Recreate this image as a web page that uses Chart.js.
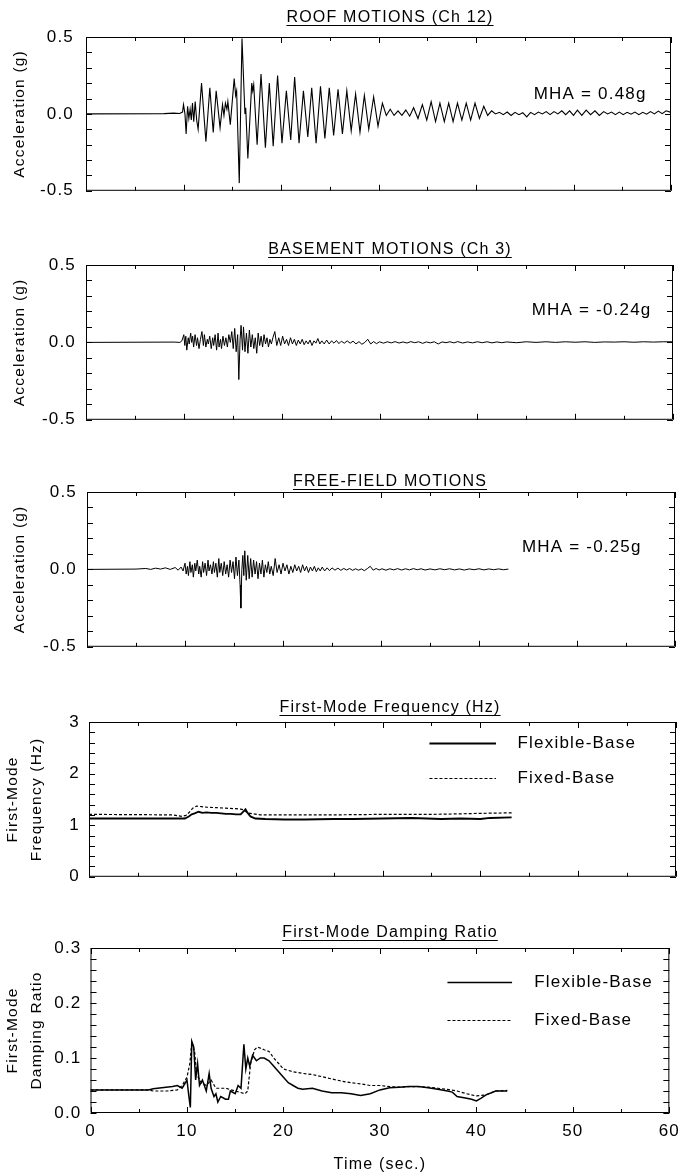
<!DOCTYPE html>
<html>
<head>
<meta charset="utf-8">
<script src="https://cdn.jsdelivr.net/npm/chart.js@4"></script>
<style>
html,body{margin:0;padding:0;background:#fff;width:688px;height:1176px;overflow:hidden;position:relative}
canvas{position:absolute;left:0}
</style>
</head>
<body>
<script>
// ---------------- DATA ----------------
const timeTicks = [0, 10, 20, 30, 40, 50, 60];
const accTicks = [-0.5, 0, 0.5];
const freqTicks = [0, 1, 2, 3];
const dampTicks = [0, 0.1, 0.2, 0.3];

const panelTitles = ['ROOF MOTIONS (Ch 12)', 'BASEMENT MOTIONS (Ch 3)', 'FREE-FIELD MOTIONS',
  'First-Mode Frequency (Hz)', 'First-Mode Damping Ratio'];
const yTitles = [['Acceleration (g)'], ['Acceleration (g)'], ['Acceleration (g)'],
  ['First-Mode', 'Frequency (Hz)'], ['First-Mode', 'Damping Ratio']];
const xTitle = 'Time (sec.)';
const mhaTexts = ['MHA = 0.48g', 'MHA = -0.24g', 'MHA = -0.25g'];
const seriesNames = ['Flexible-Base', 'Fixed-Base'];

// [time (s), acceleration (g)]
const roofMotion = [[0,0],[8,0.002],[9,0.005],[9.6,0.003],[9.9,0.012],[10,0.06],[10.15,0],[10.27,-0.13],[10.42,0.05],[10.55,-0.03],[10.68,0.03],[10.8,-0.04],[10.92,0.07],[11.05,-0.05],[11.2,0.08],[11.35,-0.04],[11.5,-0.1],[11.85,0.2],[12.3,-0.18],[12.7,0.17],[13.05,-0.12],[13.35,0.15],[13.75,-0.09],[14.0,0.06],[14.15,-0.01],[14.3,0.07],[14.45,0.03],[14.55,0.08],[14.8,-0.07],[15.2,0.23],[15.35,0.12],[15.45,0.15],[15.72,-0.45],[16.0,0.49],[16.3,0.0],[16.38,0.04],[16.6,-0.29],[17.0,0.2],[17.1,0.15],[17.2,0.19],[17.55,-0.2],[17.95,0.26],[18.4,-0.22],[18.8,0.2],[19.2,-0.21],[19.65,0.25],[20.1,-0.19],[20.55,0.15],[21.0,-0.17],[21.4,0.24],[21.85,-0.19],[22.3,0.15],[22.75,-0.15],[23.15,0.17],[23.6,-0.19],[24.05,0.18],[24.5,-0.16],[24.95,0.17],[25.4,-0.14],[25.85,0.16],[26.3,-0.13],[26.75,0.15],[27.2,-0.11],[27.65,0.13],[28.1,-0.12],[28.55,0.12],[29.0,-0.1],[29.5,0.11],[29.95,-0.08],[30.4,0.07],[30.8,-0.01],[31.2,0.03],[31.6,-0.01],[32.0,0.02],[32.4,-0.01],[32.8,0.025],[33.2,-0.015],[33.6,0.04],[34.05,-0.03],[34.5,0.06],[34.95,-0.04],[35.4,0.08],[35.85,-0.05],[36.3,0.07],[36.75,-0.05],[37.2,0.07],[37.65,-0.05],[38.1,0.07],[38.55,-0.04],[39.0,0.07],[39.45,-0.04],[39.9,0.07],[40.35,-0.03],[40.8,0.05],[41.2,-0.01],[41.6,0.02],[42.0,0.0],[42.4,0.01],[42.8,-0.005],[43.2,0.012],[43.6,-0.01],[44.0,0.01],[44.4,-0.005],[44.8,0.008],[45.2,-0.02],[45.6,0.01],[46.0,-0.005],[46.4,0.012],[46.8,0.0],[47.2,0.015],[47.6,-0.005],[48.0,0.015],[48.4,0.0],[48.8,0.02],[49.2,-0.005],[49.6,0.02],[50.0,-0.01],[50.4,0.025],[50.85,-0.01],[51.3,0.025],[51.75,-0.005],[52.2,0.02],[52.65,-0.01],[53.1,0.015],[53.5,0.0],[53.9,0.012],[54.3,-0.005],[54.7,0.012],[55.1,-0.005],[55.5,0.01],[55.9,-0.002],[56.3,0.012],[56.7,-0.005],[57.1,0.01],[57.5,-0.002],[57.9,0.015],[58.3,0.0],[58.7,0.018],[59.1,0.002],[59.5,0.02],[60,0.01]];

const basementMotion = [[0,0],[9.0,0.002],[9.6,0.0],[9.8,0.01],[10.0,0.05],[10.1,-0.02],[10.2,0.04],[10.3,-0.05],[10.45,0.03],[10.55,-0.01],[10.7,0.06],[10.8,0.0],[10.9,0.04],[11.0,-0.03],[11.15,0.05],[11.3,-0.02],[11.4,0.03],[11.55,-0.04],[11.7,0.02],[11.85,0.07],[12.0,-0.02],[12.1,0.05],[12.25,-0.03],[12.4,0.02],[12.5,-0.01],[12.65,0.04],[12.8,-0.04],[12.95,0.03],[13.05,-0.02],[13.2,0.05],[13.35,-0.05],[13.5,0.06],[13.6,-0.03],[13.75,0.02],[13.85,-0.04],[14.0,0.04],[14.15,-0.02],[14.3,0.03],[14.45,-0.03],[14.6,0.05],[14.75,0.0],[14.9,0.07],[15.05,-0.04],[15.2,0.09],[15.35,-0.06],[15.5,0.05],[15.62,-0.24],[15.75,0.02],[15.85,0.11],[16.0,-0.05],[16.1,0.1],[16.25,-0.06],[16.4,0.06],[16.55,-0.07],[16.7,0.08],[16.85,-0.03],[17.0,0.05],[17.15,-0.04],[17.3,0.03],[17.45,-0.07],[17.6,0.06],[17.75,-0.02],[17.9,0.04],[18.05,-0.03],[18.2,0.05],[18.35,-0.01],[18.5,0.03],[18.65,-0.03],[18.8,0.02],[18.95,-0.01],[19.1,0.03],[19.3,0.07],[19.5,-0.02],[19.7,0.03],[19.9,-0.02],[20.1,0.04],[20.3,-0.01],[20.5,0.02],[20.7,-0.02],[20.9,0.03],[21.1,-0.01],[21.3,0.02],[21.5,-0.02],[21.7,0.015],[21.9,-0.01],[22.1,0.02],[22.3,-0.015],[22.5,0.01],[22.7,-0.01],[22.9,0.015],[23.1,-0.02],[23.3,0.01],[23.5,-0.005],[23.7,0.025],[23.9,-0.01],[24.1,0.01],[24.35,-0.01],[24.6,0.015],[24.85,-0.01],[25.1,0.01],[25.35,-0.005],[25.6,0.012],[25.85,-0.008],[26.1,0.008],[26.4,-0.005],[26.7,0.01],[27.0,-0.005],[27.3,0.008],[27.6,-0.01],[27.9,0.005],[28.2,-0.012],[28.5,0.0],[28.8,0.02],[29.1,-0.01],[29.4,0.005],[29.7,-0.008],[30.0,0.004],[30.4,-0.005],[30.8,0.004],[31.2,-0.003],[31.6,0.005],[32.0,-0.004],[32.4,0.003],[32.8,-0.004],[33.2,0.005],[33.6,-0.002],[34.0,0.004],[34.4,-0.006],[34.8,0.003],[35.2,-0.003],[35.6,0.004],[36.0,-0.01],[36.4,0.003],[36.8,-0.002],[37.2,0.004],[37.6,-0.003],[38.0,0.005],[38.5,-0.004],[39.0,0.003],[39.5,-0.003],[40.0,0.004],[40.5,-0.002],[41.0,0.004],[41.5,-0.003],[42.0,0.003],[42.5,-0.002],[43,0.003],[44,-0.002],[45,0.004],[46,0.0],[47,0.004],[48,0.0],[49,0.004],[50,0.001],[51,0.004],[52,0.0],[53,0.003],[54,0.002],[55,0.004],[56,0.001],[57,0.004],[58,0.002],[59,0.004],[60,0.004]];

const freeFieldMotion = [[0,0],[5,0.002],[6,0.006],[6.5,0.0],[7,0.008],[7.5,0.002],[8,0.01],[8.5,0.0],[9,0.012],[9.3,-0.005],[9.6,0.015],[9.8,-0.01],[10.0,0.04],[10.12,-0.03],[10.25,0.02],[10.35,-0.04],[10.5,0.05],[10.6,-0.02],[10.75,0.03],[10.85,-0.05],[11.0,0.04],[11.1,-0.01],[11.25,0.06],[11.4,-0.03],[11.5,0.02],[11.65,-0.05],[11.8,0.05],[11.9,-0.02],[12.05,0.04],[12.2,-0.04],[12.35,0.06],[12.45,-0.01],[12.6,0.03],[12.75,-0.03],[12.9,0.05],[13.0,-0.02],[13.15,0.04],[13.3,-0.05],[13.45,0.07],[13.55,-0.02],[13.7,0.04],[13.85,-0.04],[14.0,0.05],[14.15,-0.03],[14.3,0.03],[14.45,-0.05],[14.6,0.06],[14.75,-0.02],[14.9,0.05],[15.05,-0.06],[15.2,0.08],[15.35,-0.04],[15.5,0.06],[15.62,-0.1],[15.7,-0.25],[15.8,0.0],[15.9,0.09],[16.0,-0.04],[16.1,0.12],[16.25,-0.07],[16.4,0.09],[16.55,-0.06],[16.7,0.07],[16.85,-0.05],[17.0,0.06],[17.15,-0.03],[17.3,0.05],[17.45,-0.06],[17.6,0.04],[17.75,-0.03],[17.9,0.06],[18.05,-0.05],[18.2,0.03],[18.35,-0.02],[18.5,0.05],[18.65,-0.03],[18.8,0.02],[19.0,-0.04],[19.2,0.07],[19.4,-0.02],[19.6,0.03],[19.8,-0.03],[20.0,0.04],[20.2,-0.01],[20.4,0.03],[20.6,-0.03],[20.8,0.02],[21.0,-0.02],[21.2,0.03],[21.4,-0.01],[21.6,0.02],[21.8,-0.02],[22.0,0.03],[22.2,-0.01],[22.4,0.02],[22.6,-0.02],[22.8,0.015],[23.0,-0.01],[23.2,0.02],[23.4,-0.015],[23.6,0.01],[23.8,-0.01],[24.0,0.015],[24.25,-0.01],[24.5,0.01],[24.75,-0.008],[25.0,0.01],[25.3,-0.005],[25.6,0.008],[25.9,-0.006],[26.2,0.006],[26.5,-0.004],[26.8,0.006],[27.1,-0.006],[27.4,0.004],[27.7,-0.005],[28.0,0.003],[28.3,-0.008],[28.6,0.005],[28.9,0.02],[29.2,-0.005],[29.5,0.006],[29.8,-0.004],[30.1,0.004],[30.5,-0.005],[30.9,0.004],[31.3,-0.003],[31.7,0.005],[32.1,-0.004],[32.5,0.004],[32.9,-0.003],[33.3,0.005],[33.7,-0.002],[34.1,0.004],[34.5,-0.004],[35.0,0.003],[35.5,-0.003],[36.0,0.004],[36.5,-0.002],[37.0,0.004],[37.5,-0.003],[38.0,0.003],[38.5,-0.004],[39.0,0.003],[39.5,-0.002],[40.0,0.004],[40.5,-0.003],[41.0,0.003],[41.5,-0.002],[42.0,0.003],[42.5,-0.002],[43.0,0.002]];

// [time (s), frequency (Hz)]
const freqFlexible = [[0,1.13],[9,1.13],[9.8,1.13],[10.2,1.17],[10.5,1.21],[10.8,1.23],[11.2,1.26],[11.6,1.24],[12.0,1.25],[12.5,1.24],[13.0,1.24],[13.5,1.23],[14.0,1.22],[14.5,1.22],[15.0,1.21],[15.5,1.21],[15.8,1.27],[16.0,1.31],[16.2,1.24],[16.5,1.17],[17.0,1.13],[18.0,1.12],[20,1.11],[22,1.11],[25,1.12],[27,1.12],[30,1.13],[33,1.14],[36,1.12],[38,1.13],[40,1.12],[41,1.14],[43.2,1.15]];
const freqFixed = [[0,1.21],[8.5,1.2],[9.5,1.17],[9.9,1.19],[10.2,1.24],[10.6,1.33],[11.0,1.37],[11.5,1.36],[12,1.35],[13,1.34],[14,1.33],[15,1.32],[15.5,1.31],[15.8,1.3],[16.2,1.24],[16.8,1.22],[17.5,1.2],[20,1.2],[25,1.2],[30,1.21],[35,1.21],[38,1.22],[40,1.23],[43.2,1.24]];

// [time (s), damping ratio]
const dampFlexible = [[0,0.042],[6,0.042],[6.5,0.044],[8.5,0.048],[9,0.05],[9.5,0.045],[10,0.06],[10.2,0.03],[10.35,0.01],[10.5,0.13],[10.7,0.12],[10.9,0.06],[11.1,0.09],[11.3,0.05],[11.6,0.06],[12,0.04],[12.3,0.072],[12.5,0.045],[12.8,0.03],[13.0,0.035],[13.2,0.02],[13.5,0.03],[14.0,0.025],[14.3,0.025],[14.5,0.04],[15.0,0.035],[15.3,0.05],[15.6,0.045],[15.9,0.125],[16.1,0.08],[16.3,0.1],[16.5,0.085],[16.8,0.105],[17.2,0.095],[17.6,0.1],[18.0,0.1],[18.5,0.095],[19.0,0.085],[19.5,0.075],[20.0,0.065],[20.5,0.055],[21.0,0.05],[21.5,0.045],[22,0.043],[23,0.045],[24,0.04],[25,0.037],[26,0.037],[27,0.035],[28,0.032],[29,0.035],[30,0.042],[31,0.046],[32,0.047],[33,0.048],[34,0.048],[35,0.046],[36,0.043],[37,0.04],[37.5,0.038],[38,0.03],[39,0.027],[39.5,0.025],[40,0.022],[40.5,0.027],[41,0.033],[42,0.04],[43.2,0.04]];
const dampFixed = [[0,0.042],[6,0.042],[6.5,0.04],[8,0.04],[9,0.042],[9.5,0.05],[10,0.065],[10.3,0.09],[10.5,0.13],[10.8,0.11],[11,0.07],[11.5,0.055],[12,0.05],[12.5,0.06],[13,0.045],[14,0.045],[15,0.04],[16,0.035],[16.3,0.04],[16.6,0.09],[17,0.115],[17.3,0.12],[18,0.115],[18.5,0.112],[19,0.1],[19.5,0.09],[20,0.08],[21,0.075],[22,0.072],[23,0.07],[24,0.066],[25,0.062],[26,0.058],[27,0.055],[28,0.053],[29,0.05],[30,0.05],[31,0.048],[32,0.047],[33,0.048],[34,0.048],[35,0.047],[36,0.045],[37,0.043],[38,0.04],[39,0.035],[40,0.031],[41,0.033],[42,0.04],[43.2,0.041]];

// ---------------- STYLE / LAYOUT ----------------
const FONT = '"Liberation Sans", Arial, Helvetica, sans-serif';
const INK = '#000';
const LS = '1.2px';
const TITLE_X = 390;

const toXY = arr => arr.map(p => ({x: p[0], y: p[1]}));

const line = (data, w, dash) => ({data: toXY(data), borderColor: INK, borderWidth: w, borderDash: dash || [], pointRadius: 0, tension: 0, fill: false});

const panels = [
  {L: 86, R: 671, T: 37, B: 201, yMin: -0.5, yMax: 0.5, yTicks: accTicks, yMinor: 0.1, dec: 1, titleOff: 15, tickPad: 12, yTitlePad: 10, yTitleLH: 1.2,
   datasets: [line(roofMotion, 1.1)], mha: {text: mhaTexts[0], x: 57.5, y: 0.125}},
  {L: 86, R: 673, T: 265, B: 428, yMin: -0.5, yMax: 0.5, yTicks: accTicks, yMinor: 0.1, dec: 1, titleOff: 11, tickPad: 10, yTitlePad: 10, yTitleLH: 1.2,
   datasets: [line(basementMotion, 1)], mha: {text: mhaTexts[1], x: 57.8, y: 0.21}},
  {L: 87, R: 675, T: 492, B: 655, yMin: -0.5, yMax: 0.5, yTicks: accTicks, yMinor: 0.1, dec: 1, titleOff: 6, tickPad: 10, yTitlePad: 10, yTitleLH: 1.2,
   datasets: [line(freeFieldMotion, 1)], mha: {text: mhaTexts[2], x: 56.6, y: 0.14}},
  {L: 89, R: 676, T: 722, B: 884, yMin: 0, yMax: 3, yTicks: freqTicks, yMinor: 0.2, dec: 0, titleOff: 10, tickPad: 9, yTitlePad: 1.5, yTitleLH: 1.5,
   datasets: [line(freqFlexible, 1.8), line(freqFixed, 1.2, [3, 2])],
   legend: [{label: seriesNames[0], t1: 34.8, t2: 41.6, t3: 43.8, v: 2.6, dash: [], w: 2},
            {label: seriesNames[1], t1: 34.8, t2: 41.6, t3: 43.8, v: 1.92, dash: [3, 2], w: 1.2}]},
  {L: 90.5, R: 677, T: 948, B: 1113, yMin: 0, yMax: 0.3, yTicks: dampTicks, yMinor: 0.02, dec: 1, titleOff: 11, tickPad: 9, yTitlePad: 1.5, yTitleLH: 1.5,
   datasets: [line(dampFlexible, 1.5), line(dampFixed, 1.2, [3, 2])], showX: true,
   legend: [{label: seriesNames[0], t1: 37, t2: 43.7, t3: 46, v: 0.239, dash: [], w: 1.6},
            {label: seriesNames[1], t1: 37, t2: 43.7, t3: 46, v: 0.169, dash: [3, 2], w: 1.2}]}
];

const framePlugin = {
  id: 'frame',
  beforeUpdate(chart) { chart.ctx.letterSpacing = LS; },
  beforeLayout(chart) { chart.ctx.letterSpacing = LS; },
  beforeDraw(chart) {
    const c = chart.ctx;
    c.letterSpacing = LS;
    c.save(); c.fillStyle = '#fff'; c.fillRect(0, 0, chart.width, chart.height); c.restore();
  },
  afterDatasetsDraw(chart, args, o) {
    const {ctx, chartArea: a, scales: {x, y}} = chart;
    ctx.save();
    ctx.letterSpacing = LS;
    ctx.strokeStyle = INK;
    ctx.fillStyle = INK;
    ctx.lineWidth = 1;
    ctx.setLineDash([]);
    // frame
    ctx.beginPath();
    ctx.rect(a.left + 0.5, a.top + 0.5, a.right - a.left - 1, a.bottom - a.top - 1);
    ctx.stroke();
    // inward ticks, x (every 5 s)
    ctx.beginPath();
    for (let k = 0; k <= 12; k++) {
      const v = k * 5;
      const px = Math.round(x.getPixelForValue(v)) + 0.5;
      const len = (k % 2 === 0) ? 6 : 4;
      ctx.moveTo(px, a.bottom); ctx.lineTo(px, a.bottom - len);
      ctx.moveTo(px, a.top); ctx.lineTo(px, a.top + len);
    }
    // inward ticks, y
    const n = Math.round((o.yMax - o.yMin) / o.yMinor);
    for (let k = 0; k <= n; k++) {
      const v = o.yMin + k * o.yMinor;
      const py = Math.round(y.getPixelForValue(v)) + 0.5;
      ctx.moveTo(a.left, py); ctx.lineTo(a.left + 6, py);
      ctx.moveTo(a.right, py); ctx.lineTo(a.right - 6, py);
    }
    ctx.stroke();
    // title with underline
    ctx.font = '16px ' + FONT;
    ctx.textAlign = 'center';
    ctx.textBaseline = 'alphabetic';
    const by = a.top - o.titleOff;
    ctx.fillText(o.title, TITLE_X, by);
    const w = ctx.measureText(o.title).width;
    ctx.beginPath();
    ctx.moveTo(TITLE_X - w / 2, Math.round(by + 3) + 0.5);
    ctx.lineTo(TITLE_X + w / 2, Math.round(by + 3) + 0.5);
    ctx.stroke();
    // MHA annotation
    if (o.mha) {
      ctx.font = '17px ' + FONT;
      ctx.textAlign = 'right';
      ctx.textBaseline = 'middle';
      ctx.fillText(o.mha.text, x.getPixelForValue(o.mha.x), y.getPixelForValue(o.mha.y));
    }
    // legend
    if (o.legend) {
      o.legend.forEach(it => {
        const py = Math.round(y.getPixelForValue(it.v)) + 0.5;
        ctx.beginPath();
        ctx.lineWidth = it.w;
        ctx.setLineDash(it.dash);
        ctx.moveTo(x.getPixelForValue(it.t1), py);
        ctx.lineTo(x.getPixelForValue(it.t2), py);
        ctx.stroke();
        ctx.setLineDash([]);
        ctx.font = '17px ' + FONT;
        ctx.textAlign = 'left';
        ctx.textBaseline = 'middle';
        ctx.fillText(it.label, x.getPixelForValue(it.t3), py);
      });
    }
    ctx.restore();
  }
};

panels.forEach((p, i) => {
  const top = p.T - 40;
  const bottomExtra = p.showX ? (1176 - p.B) : 12;
  const h = (p.B - top) + bottomExtra;
  const cv = document.createElement('canvas');
  cv.width = 688; cv.height = h;
  cv.style.top = top + 'px';
  cv.style.width = '688px'; cv.style.height = h + 'px';
  document.body.appendChild(cv);

  new Chart(cv, {
    type: 'line',
    data: {datasets: p.datasets},
    plugins: [framePlugin],
    options: {
      responsive: false,
      animation: false,
      devicePixelRatio: 1,
      events: [],
      layout: {padding: {top: 40, left: 0, right: 688 - p.R, bottom: 0}},
      plugins: {
        legend: {display: false},
        tooltip: {enabled: false},
        title: {display: false},
        frame: {title: panelTitles[i], titleOff: p.titleOff, yMin: p.yMin, yMax: p.yMax, yMinor: p.yMinor, mha: p.mha, legend: p.legend}
      },
      scales: {
        x: {
          type: 'linear', min: 0, max: 60,
          afterBuildTicks: s => { s.ticks = timeTicks.map(v => ({value: v})); },
          afterFit: s => { s.height = bottomExtra; },
          grid: {display: false, drawTicks: false},
          border: {display: false},
          ticks: {display: !!p.showX, padding: 8, color: INK, font: {family: FONT, size: 17}, maxRotation: 0, callback: v => String(v)},
          title: {display: !!p.showX, text: xTitle, color: INK, font: {family: FONT, size: 16, lineHeight: 1.2}, padding: {top: 0, bottom: 1.5}}
        },
        y: {
          type: 'linear', min: p.yMin, max: p.yMax,
          afterBuildTicks: s => { s.ticks = p.yTicks.map(v => ({value: v})); },
          afterFit: s => { s.width = p.L; },
          grid: {display: false, drawTicks: false},
          border: {display: false},
          ticks: {padding: p.tickPad, color: INK, font: {family: FONT, size: 17}, callback: v => Number(v).toFixed(p.dec)},
          title: {display: true, text: yTitles[i], color: INK, font: {family: FONT, size: 15.5, lineHeight: p.yTitleLH}, padding: {top: p.yTitlePad, bottom: 0}}
        }
      }
    }
  });
});
</script>
</body>
</html>
